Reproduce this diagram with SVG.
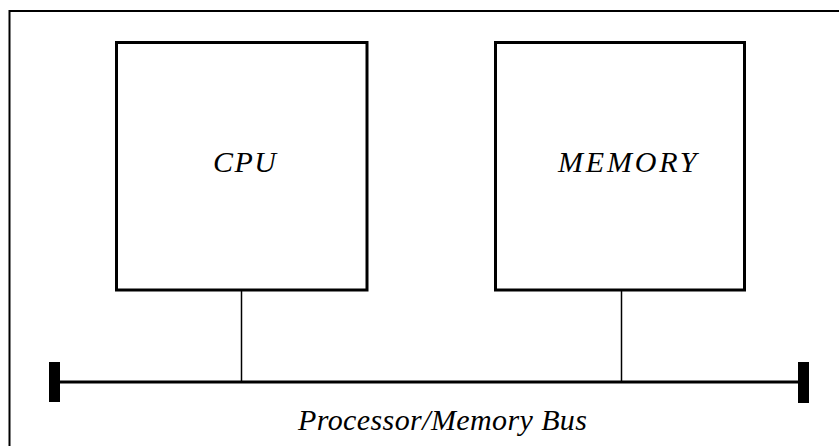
<svg xmlns="http://www.w3.org/2000/svg" width="839" height="446" viewBox="0 0 839 446">
<style>
.box{fill:#fff;stroke:#000;stroke-width:3}
.lbl{font-family:"Liberation Serif",serif;font-style:italic;font-size:30px;fill:#000}
.wire{stroke:#000;stroke-width:1.5;fill:none}
</style>
<rect x="0" y="0" width="839" height="446" fill="#fff"/>
<g id="frame"><path d="M9.5 446 V11 H839" fill="none" stroke="#000" stroke-width="2"/></g>
<g id="connectors">
<line class="wire" x1="241.5" y1="290" x2="241.5" y2="382"/>
<line class="wire" x1="621.5" y1="290" x2="621.5" y2="382"/>
<line x1="55" y1="382" x2="804" y2="382" stroke="#000" stroke-width="3"/>
<rect x="49" y="362" width="11" height="40" fill="#000"/>
<rect x="798" y="362" width="11" height="41" fill="#000"/>
</g>
<g id="cpu">
<rect class="box" x="116.5" y="42.5" width="250.5" height="247.5"/>
<text class="lbl" x="213" y="172" letter-spacing="1.5">CPU</text>
</g>
<g id="memory">
<rect class="box" x="495.5" y="42.5" width="249" height="247.5"/>
<text class="lbl" x="558" y="172" letter-spacing="2.8">MEMORY</text>
</g>
<g id="bus-label">
<text class="lbl" x="298" y="430" letter-spacing="0.4">Processor/Memory Bus</text>
</g>
</svg>
